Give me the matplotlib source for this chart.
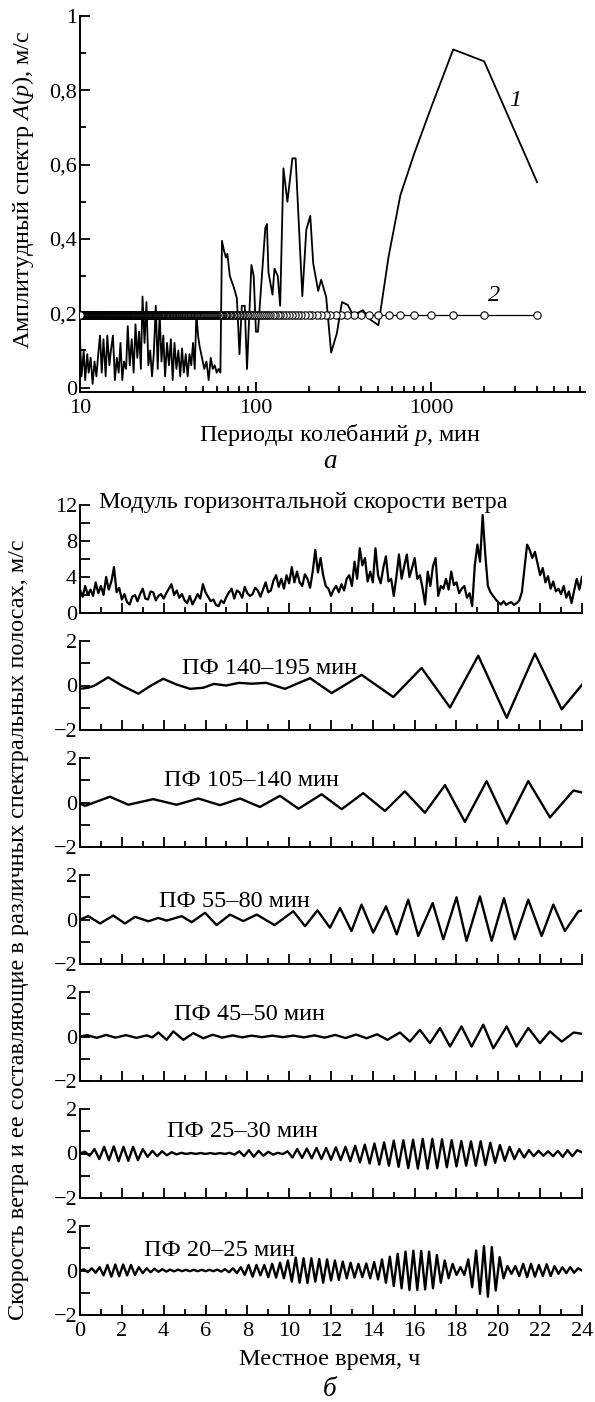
import numpy as np
import matplotlib
matplotlib.use('Agg')
import matplotlib.pyplot as plt
import matplotlib.ticker as mticker

plt.rcParams['font.family'] = ['Liberation Serif', 'DejaVu Serif']
plt.rcParams['mathtext.fontset'] = 'custom'
plt.rcParams['mathtext.rm'] = 'Liberation Serif'
plt.rcParams['mathtext.it'] = 'Liberation Serif:italic'

# ---------- (a) amplitude spectrum ----------
spec_period = [10, 10.2, 10.5, 10.7, 11, 11.2, 11.5, 11.8, 12.1, 12.4, 12.7, 13, 13.3, 13.6, 14,
               14.3, 14.7, 15, 15.4, 15.8, 16.2, 16.6, 17, 17.4, 17.8, 18.3, 18.7, 19.2, 19.7, 20.2,
               20.7, 21.2, 21.7, 22.2, 22.7, 23.3, 23.9, 24.5, 25.1, 25.7, 26.3, 27, 27.7, 28.4, 29.1,
               29.8, 30.5, 31.3, 32.1, 32.9, 33.7, 34.5, 35.4, 36.3, 37.2, 38.1, 39, 40, 41, 42,
               43, 44, 45, 46, 47, 48, 49.5, 51, 52.5, 54, 55.5, 57, 58.5, 60, 61.5, 63,
               64.3, 65.9, 67.7, 69.0, 71.3, 75.1, 78.2, 80.9, 83.4, 86.7, 89.3, 94.6, 97.5, 100.4,
               103.1, 106.3, 113.5, 115.9, 118.3, 124.7, 128, 133.6, 137.9, 143.9, 151.6, 161.9,
               168.9, 184.4, 194.2, 204.6, 212.7, 227, 236, 252, 269, 290, 310, 335, 358, 408, 452,
               500, 571, 667, 800, 1000, 1333, 2000, 4000]
spec_amp = [0.13, 0.03, 0.10, 0.02, 0.09, 0.04, 0.08, 0.01, 0.07, 0.03, 0.09, 0.14, 0.04, 0.13, 0.03,
            0.14, 0.06, 0.10, 0.14, 0.02, 0.08, 0.04, 0.12, 0.02, 0.07, 0.05, 0.165, 0.06, 0.13, 0.04,
            0.17, 0.08, 0.15, 0.05, 0.245, 0.12, 0.23, 0.06, 0.10, 0.03, 0.09, 0.22, 0.05, 0.20, 0.07,
            0.14, 0.03, 0.12, 0.06, 0.13, 0.02, 0.12, 0.05, 0.10, 0.03, 0.105, 0.04, 0.09, 0.03, 0.09,
            0.06, 0.12, 0.05, 0.20, 0.14, 0.11, 0.08, 0.05, 0.07, 0.02, 0.08, 0.05, 0.06, 0.04, 0.05, 0.04,
            0.395, 0.37, 0.35, 0.36, 0.30, 0.27, 0.24, 0.09, 0.22, 0.22, 0.05, 0.33, 0.30, 0.15,
            0.15, 0.24, 0.43, 0.44, 0.31, 0.25, 0.32, 0.30, 0.22, 0.59, 0.50, 0.617,
            0.617, 0.246, 0.424, 0.462, 0.334, 0.26, 0.29, 0.244, 0.094, 0.146, 0.23, 0.222, 0.195, 0.208, 0.182,
            0.168, 0.352, 0.518, 0.63, 0.755, 0.91, 0.878, 0.553]

record_len = 4000.0                      # min, Fourier periods T/k
harmonics = np.arange(1, 401)
level_period = record_len / harmonics
level_amp = 0.195

# ---------- (б) wind speed and band-pass components ----------
wind_speed = [2.6, 1.8, 3.0, 2.0, 2.6, 1.9, 3.4, 2.2,
              3.0, 2.0, 4.0, 2.6, 3.5, 5.1, 2.3, 2.8,
              1.5, 2.1, 1.2, 0.95, 1.8, 2.0, 1.3, 2.1,
              2.7, 1.6, 1.5, 2.4, 2.3, 1.4, 1.9, 2.1,
              1.6, 2.2, 2.7, 3.2, 2.0, 2.5, 1.7, 2.1,
              1.4, 1.1, 1.9, 0.95, 1.5, 2.1, 1.6, 3.2,
              2.3, 1.8, 1.3, 1.5, 0.9, 0.76, 1.4, 1.1,
              1.8, 2.3, 2.7, 1.6, 2.5, 2.3, 1.7, 2.9,
              2.2, 1.9, 2.1, 2.8, 2.5, 1.8, 2.6, 3.4,
              2.3, 2.5, 3.6, 4.2, 2.9, 3.8, 2.7, 4.2,
              3.3, 5.1, 3.4, 4.6, 3.4, 3.0, 4.3, 3.8,
              2.8, 4.6, 7.0, 4.5, 6.1, 4.2, 3.0, 2.7,
              1.9, 2.6, 3.0, 2.3, 3.2, 2.5, 3.8, 4.2,
              3.0, 5.7, 3.8, 7.2, 5.3, 6.1, 3.5, 4.6,
              3.4, 7.2, 4.2, 3.3, 5.0, 6.3, 3.5, 3.8,
              1.9, 4.0, 6.5, 3.8, 5.2, 6.5, 4.0, 5.0,
              6.1, 3.8, 4.2, 2.8, 0.95, 4.6, 3.0, 5.2,
              6.1, 1.9, 3.0, 2.7, 3.8, 2.6, 4.6, 3.1,
              3.4, 2.2, 2.7, 3.0, 1.7, 2.2, 0.76, 5.3,
              7.6, 5.7, 10.9, 6.5, 3.0, 2.3, 1.9, 1.5,
              1.2, 0.95, 1.3, 0.9, 1.1, 1.2, 0.9, 1.1,
              1.4, 2.3, 5.0, 7.6, 7.0, 6.1, 6.8, 5.5,
              4.2, 5.0, 3.4, 4.1, 2.7, 3.5, 2.4, 2.7,
              2.1, 3.0, 1.7, 2.4, 1.1, 2.5, 3.8, 2.6,
              4.0]

bp140_t = [0, 0.4, 0.7, 1.35, 2.0, 2.79, 3.4, 3.98, 4.6, 5.26, 5.9, 6.4, 7.0, 7.6, 8.2,
           8.9, 9.8, 11.0, 12.03, 13.46, 14.98, 16.33, 17.69, 19.04, 20.4, 21.75, 23.03, 24]
bp140_v = [-0.15, -0.1, 0.0, 0.37, 0.0, -0.37, 0.0, 0.3, 0.05, -0.15, -0.1, 0.07, 0.0, 0.12, 0.08,
           0.12, -0.15, 0.33, -0.34, 0.48, -0.52, 0.79, -0.99, 1.34, -1.45, 1.43, -1.07, 0.03]

bp105_t = [0, 0.25, 1.43, 2.31, 3.5, 4.62, 5.66, 6.69, 7.65, 8.6, 9.56, 10.45, 11.55, 12.51,
           13.54, 14.58, 15.53, 16.49, 17.45, 18.4, 19.44, 20.4, 21.43, 22.47, 23.59, 24]
bp105_v = [-0.05, -0.15, 0.26, -0.1, 0.15, -0.1, 0.18, -0.12, 0.18, -0.2, 0.3, -0.28, 0.37, -0.3,
           0.42, -0.38, 0.5, -0.46, 0.78, -0.87, 0.96, -0.95, 0.96, -0.67, 0.54, 0.45]

bp55_t = [0, 0.4, 0.96, 1.59, 2.15, 2.63, 3.27, 3.74, 4.14, 4.86, 5.34, 5.98, 6.53, 7.17, 7.81,
          8.45, 9.3, 10.2, 10.76, 11.35, 11.95, 12.43, 12.98, 13.46, 14.02, 14.63, 15.14, 15.69,
          16.17, 16.86, 17.37, 18.0, 18.48, 19.12, 19.68, 20.27, 20.79, 21.43, 22.07, 22.63,
          23.18, 23.83, 24]
bp55_v = [0.0, 0.15, -0.18, 0.18, -0.18, 0.12, -0.08, 0.07, -0.05, 0.15, -0.12, 0.3, -0.25, 0.22, -0.07,
          0.22, -0.25, 0.37, -0.3, 0.41, -0.37, 0.52, -0.52, 0.67, -0.59, 0.59, -0.67, 0.89,
          -0.74, 0.74, -0.89, 1.0, -0.96, 1.04, -0.96, 0.96, -0.89, 0.89, -0.74, 0.67,
          -0.52, 0.37, 0.4]

bp45_t = [0, 0.35, 0.8, 1.25, 1.7, 2.2, 2.7, 3.2, 3.45, 3.75, 4.14, 4.46, 4.94, 5.42, 5.9,
          6.35, 6.8, 7.3, 7.75, 8.2, 8.7, 9.2, 9.7, 10.2, 10.7, 11.2, 11.7, 12.2, 12.7, 13.2,
          13.7, 14.2, 14.7, 15.3, 15.77, 16.25, 16.73, 17.21, 17.69, 18.24, 18.72, 19.28, 19.76,
          20.4, 20.87, 21.43, 21.99, 22.47, 23.03, 23.6, 24]
bp45_v = [0.0, 0.06, -0.06, 0.07, -0.05, 0.06, -0.06, 0.05, -0.04, 0.18, -0.15, 0.23, -0.15, 0.15, -0.08,
          0.08, -0.05, 0.05, -0.04, 0.04, -0.03, 0.04, -0.03, 0.04, -0.04, 0.05, -0.05, 0.07, -0.07, 0.09,
          -0.08, 0.1, -0.15, 0.18, -0.23, 0.3, -0.3, 0.38, -0.45, 0.45, -0.45, 0.53, -0.53,
          0.45, -0.45, 0.38, -0.3, 0.23, -0.23, 0.18, 0.12]

# successive extrema, evenly spaced in time
bp25_v = [0.0, 0.08, -0.1, 0.2, -0.25, 0.3, -0.3, 0.32, -0.35, 0.3, -0.33, 0.3, -0.3, 0.2, -0.15,
          0.12, -0.12, 0.1, -0.08, 0.06, -0.04, 0.03, -0.02, 0.02, -0.02, 0.02, -0.02, 0.02, -0.02,
          0.02, -0.02, 0.03, -0.05, 0.1, -0.12, 0.15, -0.15, 0.12, -0.1, 0.08, -0.05, 0.03, -0.03,
          0.1, -0.18, 0.2, -0.2, 0.22, -0.22, 0.25, -0.25, 0.25, -0.28, 0.28, -0.3, 0.3, -0.35,
          0.35, -0.4, 0.4, -0.45, 0.45, -0.5, 0.5, -0.55, 0.58, -0.6, 0.6, -0.66, 0.62, -0.68,
          0.66, -0.68, 0.66, -0.66, 0.64, -0.62, 0.6, -0.58, 0.56, -0.55, 0.55, -0.55, 0.55, -0.52,
          0.48, -0.42, 0.38, -0.33, 0.3, -0.25, 0.2, -0.18, 0.15, -0.12, 0.12, -0.1, 0.1, -0.12,
          0.12, -0.15, 0.15, -0.12, 0.15, 0.05]

bp20_v = [0.0, 0.05, -0.08, 0.1, -0.1, 0.15, -0.22, 0.25, -0.28, 0.27, -0.26, 0.27, -0.22, 0.25, -0.2,
          0.15, -0.12, 0.1, -0.08, 0.08, -0.06, 0.06, -0.05, 0.04, -0.04, 0.04, -0.03, 0.03, -0.03,
          0.03, -0.03, 0.03, -0.03, 0.03, -0.03, 0.04, -0.05, 0.06, -0.08, 0.1, -0.12, 0.15, -0.2,
          0.25, -0.28, 0.25, -0.22, 0.25, -0.3, 0.3, -0.32, 0.35, -0.35, 0.45, -0.5, 0.58, -0.55,
          0.55, -0.56, 0.55, -0.5, 0.52, -0.55, 0.5, -0.45, 0.45, -0.42, 0.4, -0.35, 0.35, -0.32,
          0.3, -0.3, 0.32, -0.35, 0.38, -0.4, 0.5, -0.55, 0.62, -0.7, 0.75, -0.8, 0.85, -0.87,
          0.89, -0.87, 0.88, -0.85, 0.85, -0.8, 0.7, -0.55, 0.45, -0.35, 0.3, -0.2, 0.15, -0.2,
          0.5, -0.75, 0.9, -1.05, 1.1, -1.18, 1.05, -0.9, 0.6, -0.35, 0.2, -0.15, 0.2, -0.25,
          0.3, -0.3, 0.3, -0.28, 0.25, -0.25, 0.28, -0.25, 0.2, -0.15, 0.15, -0.12, 0.15, -0.1,
          0.1, 0.0]

band_names = ['ПФ 140–195 мин', 'ПФ 105–140 мин', 'ПФ 55–80 мин',
              'ПФ 45–50 мин', 'ПФ 25–30 мин', 'ПФ 20–25 мин']

# ---------- figure ----------
W, H = 595, 1402
fig = plt.figure(figsize=(W / 100, H / 100), dpi=100)

FS = 17.5      # labels
TS = 16        # tick labels


def add_ax(left, top, right, bottom):
    return fig.add_axes([left / W, 1 - bottom / H, (right - left) / W, (bottom - top) / H])


def style(ax):
    for s in ('top', 'right'):
        ax.spines[s].set_visible(False)
    for s in ('left', 'bottom'):
        ax.spines[s].set_linewidth(1.4)
    ax.tick_params(which='both', direction='in', labelsize=TS, width=1.3,
                   top=False, right=False, pad=2)
    ax.tick_params(which='major', length=7)
    ax.tick_params(which='minor', length=4)


# (a)
ax = add_ax(80, 16, 585, 392)
style(ax)
ax.plot(spec_period, spec_amp, color='k', lw=1.3)
ax.plot(level_period, np.full(len(level_period), level_amp), '-o', color='k', lw=0.9,
        ms=5.3, mfc='white', mec='k', mew=0.8, zorder=3)
ax.set_xscale('log')
ax.set_xlim(10, 7500)
ax.set_ylim(-0.012, 1.0)
ax.xaxis.set_major_locator(mticker.FixedLocator([10, 100, 1000]))
ax.xaxis.set_minor_locator(mticker.LogLocator(base=10, subs=np.arange(2, 10)))
ax.xaxis.set_major_formatter(mticker.FuncFormatter(lambda v, p: '%d' % v))
ax.xaxis.set_minor_formatter(mticker.NullFormatter())
ax.yaxis.set_major_locator(mticker.MultipleLocator(0.2))
ax.yaxis.set_minor_locator(mticker.MultipleLocator(0.1))


def comma_fmt(v, p):
    if abs(v) < 1e-9:
        return '0'
    if abs(v - 1) < 1e-9:
        return '1'
    return ('%.1f' % v).replace('.', ',')


ax.yaxis.set_major_formatter(mticker.FuncFormatter(comma_fmt))
ax.tick_params(axis='x', pad=5)
ax.text(2985, 0.773, '1', style='italic', fontsize=FS, ha='center', va='center')
ax.text(2270, 0.248, '2', style='italic', fontsize=FS, ha='center', va='center')
fig.text(23 / W, 1 - 190 / H, 'Амплитудный спектр $A(p)$, м/с', rotation=90,
         ha='center', va='center', fontsize=FS)
fig.text(340 / W, 1 - 435 / H, 'Периоды колебаний $p$, мин', ha='center', va='center', fontsize=FS)
fig.text(330 / W, 1 - 461 / H, 'а', style='italic', ha='center', va='center', fontsize=FS + 2)

# (б)
panel_px = [(505, 613), (641, 730), (758, 847), (875, 964), (992, 1081), (1109, 1198), (1226, 1315)]
axes = [add_ax(80, t, 582, b) for t, b in panel_px]

hours = np.linspace(0, 24, len(wind_speed))
axes[0].plot(hours, wind_speed, color='k', lw=1.6)
axes[0].set_ylim(0, 12)
axes[0].yaxis.set_major_locator(mticker.MultipleLocator(2))
axes[0].yaxis.set_major_formatter(mticker.FuncFormatter(
    lambda v, p: '%d' % v if int(round(v)) % 4 == 0 else ''))
axes[0].text(10.67, 12.3, 'Модуль горизонтальной скорости ветра', ha='center', va='center',
             fontsize=FS, clip_on=False)

series = [(bp140_t, bp140_v), (bp105_t, bp105_v), (bp55_t, bp55_v), (bp45_t, bp45_v),
          (np.linspace(0, 24, len(bp25_v)), bp25_v), (np.linspace(0, 24, len(bp20_v)), bp20_v)]
label_pos = [(9.08, 0.76), (8.2, 1.0), (7.36, 0.8), (8.1, 1.0), (7.75, 1.0), (6.66, 0.89)]

for a, (t, v), name, (lx, ly) in zip(axes[1:], series, band_names, label_pos):
    a.plot(t, v, color='k', lw=1.7)
    a.set_ylim(-2, 2)
    a.yaxis.set_major_locator(mticker.MultipleLocator(1))
    a.yaxis.set_major_formatter(mticker.FuncFormatter(
        lambda v, p: ('%d' % v).replace('-', '\u2212') if int(round(v)) % 2 == 0 else ''))
    a.text(lx, ly, name, ha='center', va='center', fontsize=FS)

for i, a in enumerate(axes):
    style(a)
    a.set_xlim(0, 24)
    a.xaxis.set_major_locator(mticker.MultipleLocator(2))
    a.xaxis.set_minor_locator(mticker.MultipleLocator(1))
    if i < len(axes) - 1:
        a.tick_params(axis='x', labelbottom=False)

axes[-1].tick_params(axis='x', pad=5)
fig.text(330 / W, 1 - 1360 / H, 'Местное время, ч', ha='center', va='center', fontsize=FS)
fig.text(330 / W, 1 - 1390 / H, 'б', style='italic', ha='center', va='center', fontsize=FS + 2)
fig.text(19 / W, 1 - 930 / H,
         'Скорость ветра и ее составляющие в различных спектральных полосах, м/с',
         rotation=90, ha='center', va='center', fontsize=FS)

fig.savefig('out.png', dpi=100)
